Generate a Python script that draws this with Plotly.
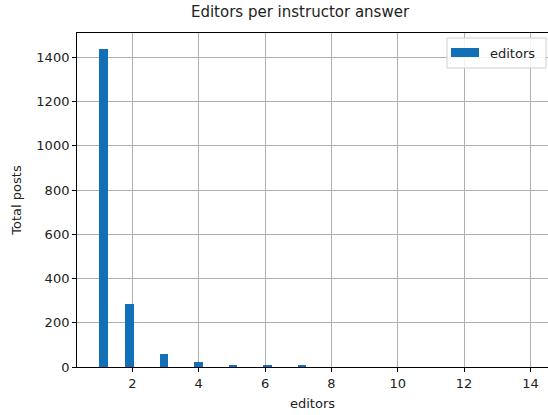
import math
import plotly.graph_objects as go

# Data: number of editors per instructor answer -> total posts
editors = [1, 2, 3, 4, 5, 6, 7, 8, 9, 10, 11, 12, 13, 14]
posts = [1437, 285, 58, 21, 8, 7, 7, 0, 0, 0, 0, 0, 0, 0]

# histogram binning (50 bins between min and max, like pandas .hist(bins=50))
n_bins = 50
lo, hi = min(editors), max(editors)
w = (hi - lo) / n_bins
centers = []
for v in editors:
    k = min(int(math.floor((v - lo) / w + 1e-9)), n_bins - 1)
    centers.append(lo + k * w + w / 2)

BLUE = "#1170b8"
FONT = "DejaVu Sans"
TXT = "#222222"

fig = go.Figure()
fig.add_trace(go.Bar(x=centers, y=posts, width=w, marker=dict(color=BLUE, line=dict(width=0)),
                     name="editors", showlegend=False))

axis_common = dict(
    showgrid=True, gridcolor="#b0b0b0", gridwidth=0.8,
    showline=True, linecolor="black", linewidth=0.9,
    ticks="outside", ticklen=4, tickwidth=0.9, tickcolor="black",
    tickfont=dict(family=FONT, size=13, color=TXT),
    zeroline=False, automargin=False,
)

fig.update_layout(
    width=548, height=415,
    margin=dict(l=77, r=0, t=33, b=48, autoexpand=False),
    paper_bgcolor="white", plot_bgcolor="white",
    font=dict(family=FONT, color=TXT),
    title=dict(text="Editors per instructor answer", xref="container", x=300 / 548,
               xanchor="center", y=1 - 12 / 415, yanchor="middle", automargin=False,
               font=dict(family=FONT, size=15, color=TXT)),
    xaxis=dict(range=[0.33, 14.53], tickvals=[2, 4, 6, 8, 10, 12, 14], mirror=True,
               title=dict(text="editors", standoff=9, font=dict(family=FONT, size=13, color=TXT)),
               **axis_common),
    yaxis=dict(range=[0, 1510], tickvals=[0, 200, 400, 600, 800, 1000, 1200, 1400], mirror=False,
               title=dict(text="Total posts", standoff=11, font=dict(family=FONT, size=13, color=TXT)),
               **axis_common),
    bargap=0,
    showlegend=False,
)

# matplotlib-style legend box (upper right)
fig.add_shape(type="rect", xref="paper", yref="paper",
              x0=(447 - 77) / 471, x1=(546 - 77) / 471,
              y0=(367 - 68) / 334, y1=(367 - 38) / 334,
              line=dict(color="#d0d0d0", width=1), fillcolor="rgba(255,255,255,0.85)", layer="above")
fig.add_shape(type="rect", xref="paper", yref="paper",
              x0=(451 - 77) / 471, x1=(479 - 77) / 471,
              y0=(367 - 57) / 334, y1=(367 - 48) / 334,
              line=dict(width=0), fillcolor=BLUE, layer="above")
fig.add_annotation(text="editors", xref="paper", yref="paper",
                   x=(488 - 77) / 471, y=(367 - 53) / 334, xanchor="left", yanchor="middle",
                   showarrow=False, font=dict(family=FONT, size=13, color=TXT))

fig.write_html("out.html", config={"displayModeBar": False},
               post_script="document.body.style.margin='0';document.body.style.overflow='hidden';")
